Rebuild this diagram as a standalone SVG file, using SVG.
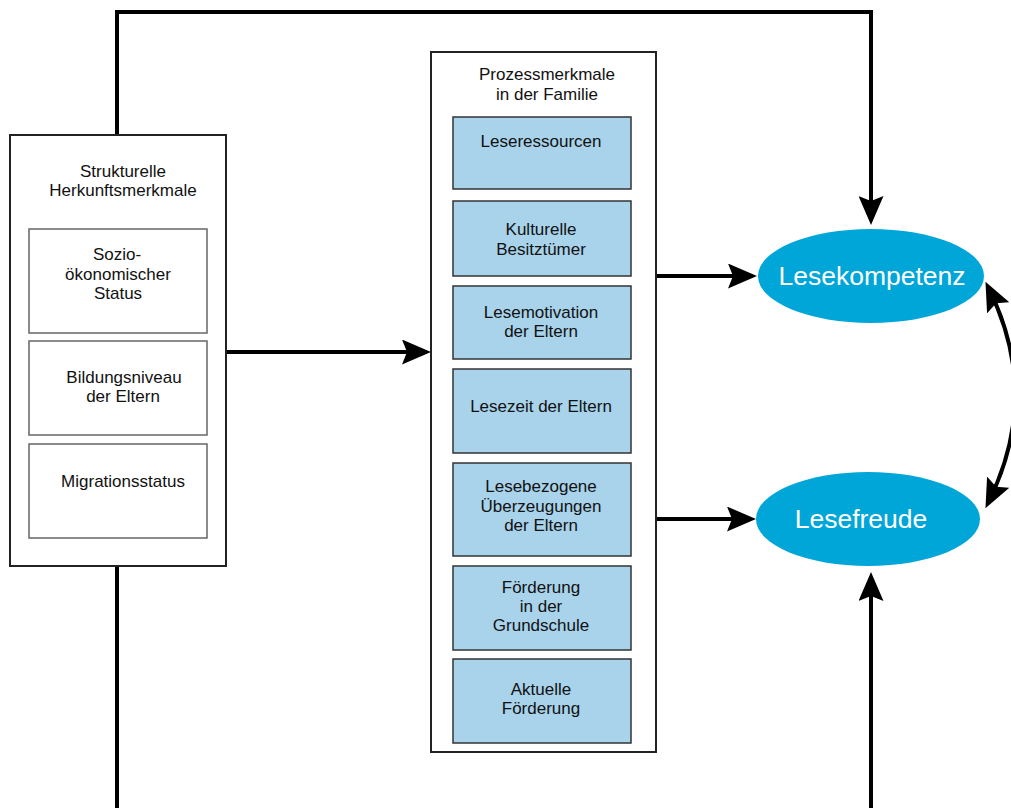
<svg xmlns="http://www.w3.org/2000/svg" width="1011" height="808" viewBox="0 0 1011 808">
<style>
.outer{fill:#fff;stroke:#222;stroke-width:2}
.inner{fill:#fff;stroke:#666;stroke-width:1.5}
.blue{fill:#a8d3eb;stroke:#333;stroke-width:1.5}
.ell{fill:#00a6d8}
.t{font-family:"Liberation Sans",Arial,sans-serif;font-size:17px;fill:#111;text-anchor:middle}
.et{font-family:"Liberation Sans",Arial,sans-serif;font-size:26.5px;fill:#fff;text-anchor:middle}
.c{fill:none;stroke:#000;stroke-width:4;marker-end:url(#ah)}
</style>
<defs>
<marker id="ah" viewBox="0 0 29 25" refX="21" refY="12.5" markerWidth="29" markerHeight="25" markerUnits="userSpaceOnUse" orient="auto-start-reverse">
<path d="M0,0 L29,12.5 L0,25 L5,12.5 z" fill="#000"/>
</marker>
</defs>
<rect width="1011" height="808" fill="#fff"/>
<g id="connectors">
<path class="c" d="M117,135 V12 H871 V217"/>
<path class="c" d="M117,566 V830 H871 V580"/>
<path class="c" d="M226,352 H423"/>
<path class="c" d="M656,276 H749"/>
<path class="c" d="M656,519 H748"/>
<path class="c" d="M989,289 C1024,360 1024,430 989,501" style="marker-start:url(#ah)"/>
</g>
<g id="strukturelle">
<rect class="outer" x="10" y="135" width="216" height="431"/>
<text class="t" x="123" y="177">Strukturelle</text>
<text class="t" x="123" y="196">Herkunftsmerkmale</text>
</g>
<g id="sozio">
<rect class="inner" x="29" y="229" width="178" height="104"/>
<text class="t" x="117" y="260">Sozio-</text>
<text class="t" x="118" y="280">ökonomischer</text>
<text class="t" x="118" y="299">Status</text>
</g>
<g id="bildung">
<rect class="inner" x="29" y="341" width="178" height="94"/>
<text class="t" x="124" y="383">Bildungsniveau</text>
<text class="t" x="123" y="402">der Eltern</text>
</g>
<g id="migration">
<rect class="inner" x="29" y="444" width="178" height="94"/>
<text class="t" x="123" y="487">Migrationsstatus</text>
</g>
<g id="prozess">
<rect class="outer" x="431" y="52" width="225" height="700"/>
<text class="t" x="547" y="80">Prozessmerkmale</text>
<text class="t" x="547" y="100">in der Familie</text>
</g>
<g id="leseressourcen">
<rect class="blue" x="453" y="117" width="178" height="72"/>
<text class="t" x="541" y="147">Leseressourcen</text>
</g>
<g id="kulturelle">
<rect class="blue" x="453" y="201" width="178" height="75"/>
<text class="t" x="541" y="235">Kulturelle</text>
<text class="t" x="541" y="255">Besitztümer</text>
</g>
<g id="lesemotivation">
<rect class="blue" x="453" y="286" width="178" height="73"/>
<text class="t" x="541" y="318">Lesemotivation</text>
<text class="t" x="541" y="337">der Eltern</text>
</g>
<g id="lesezeit">
<rect class="blue" x="453" y="369" width="178" height="84"/>
<text class="t" x="541" y="412">Lesezeit der Eltern</text>
</g>
<g id="lesebezogene">
<rect class="blue" x="453" y="463" width="178" height="93"/>
<text class="t" x="541" y="492">Lesebezogene</text>
<text class="t" x="541" y="512">Überzeugungen</text>
<text class="t" x="541" y="531">der Eltern</text>
</g>
<g id="foerderung-gs">
<rect class="blue" x="453" y="566" width="178" height="84"/>
<text class="t" x="541" y="593">Förderung</text>
<text class="t" x="541" y="612">in der</text>
<text class="t" x="541" y="631">Grundschule</text>
</g>
<g id="aktuelle">
<rect class="blue" x="453" y="659" width="178" height="84"/>
<text class="t" x="541" y="695">Aktuelle</text>
<text class="t" x="541" y="714">Förderung</text>
</g>
<g id="lesekompetenz">
<ellipse class="ell" cx="871" cy="276" rx="113" ry="47"/>
<text class="et" x="872" y="285">Lesekompetenz</text>
</g>
<g id="lesefreude">
<ellipse class="ell" cx="868" cy="519" rx="112" ry="47"/>
<text class="et" x="861" y="528">Lesefreude</text>
</g>
</svg>
